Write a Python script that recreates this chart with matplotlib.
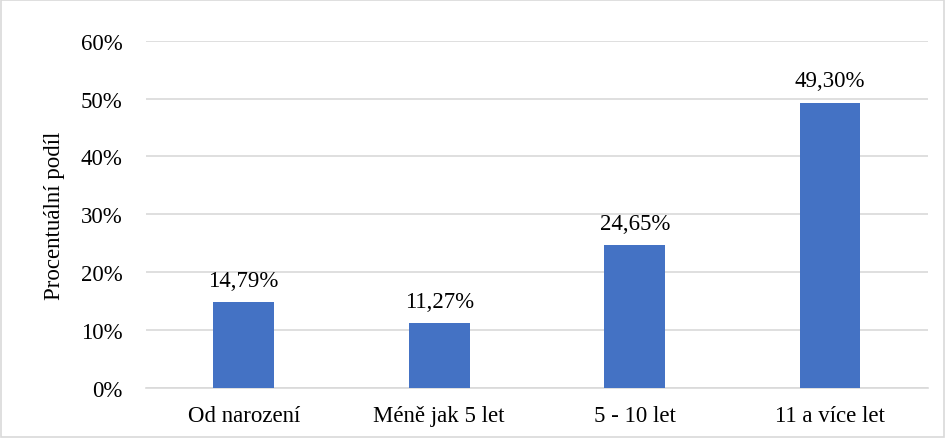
import matplotlib.pyplot as plt
from matplotlib.patches import Rectangle
from matplotlib.ticker import FuncFormatter

categories = ["Od narození", "Méně jak 5 let", "5 - 10 let", "11 a více let"]
values = [14.79, 11.27, 24.65, 49.30]
labels = ["14,79%", "11,27%", "24,65%", "49,30%"]

plt.rcParams['font.family'] = ['Liberation Serif', 'DejaVu Serif']
fs = 16.5

fig = plt.figure(figsize=(9.46, 4.39), dpi=100)
ax = fig.add_axes([0.1543, 0.1139, 0.8266, 0.791])

x = range(len(categories))
bars = ax.bar(x, values, width=0.31, color="#4472C4", zorder=3)
for b, lab in zip(bars, labels):
    ax.text(b.get_x() + b.get_width() / 2, b.get_height() + 2.8, lab,
            ha="center", va="baseline", fontsize=fs, color="#000000")

ax.set_xlim(-0.5, 3.5)
ax.set_ylim(0, 60)
ax.set_yticks(range(0, 61, 10))
ax.yaxis.set_major_formatter(FuncFormatter(lambda v, p: "%d%%" % v))
ax.set_xticks(list(x))
ax.set_xticklabels(categories)
ax.tick_params(axis="both", length=0, labelsize=fs, colors="#000000")
ax.tick_params(axis="y", pad=17)
ax.tick_params(axis="x", pad=12)
ax.grid(axis="y", color="#D9D9D9", linewidth=1.2, zorder=0)
for s in ["top", "right", "left"]:
    ax.spines[s].set_visible(False)
ax.spines["bottom"].set_color("#D9D9D9")
ax.spines["bottom"].set_linewidth(1.2)
ax.set_ylabel("Procentuální podíl", fontsize=fs)
ax.yaxis.set_label_coords(-0.104, 0.5)

fig.patches.append(Rectangle((0.001, 0.002), 0.997, 0.995, transform=fig.transFigure,
                             fill=False, edgecolor="#D9D9D9", linewidth=1.2))

fig.savefig("out.png", dpi=100)
